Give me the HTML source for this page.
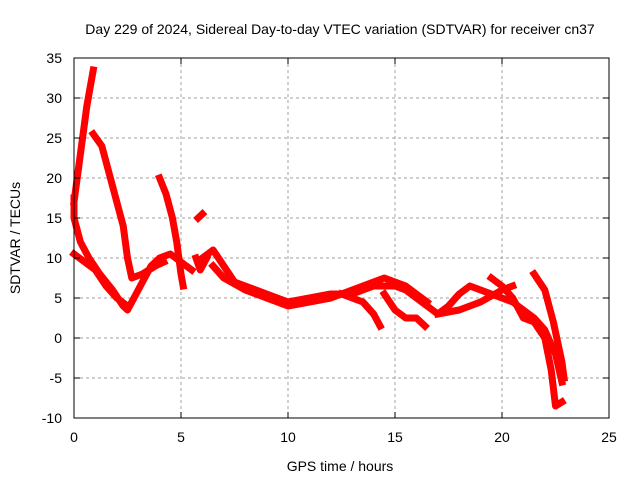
<!DOCTYPE html>
<html><head><meta charset="utf-8"><style>
body{margin:0;background:#fff;}
svg text{font-family:"Liberation Sans",sans-serif;font-size:14px;fill:#000;}
</style></head><body>
<svg width="640" height="480">
<rect width="640" height="480" fill="#fff"/>
<text x="340" y="34" text-anchor="middle">Day 229 of 2024, Sidereal Day-to-day VTEC variation (SDTVAR) for receiver cn37</text>
<g id="grid"></g>
<g id="series"></g>
<rect x="74" y="58" width="535" height="360" fill="none" stroke="#000" stroke-width="1"/>
<g id="ticks"></g>
<text x="340" y="471" text-anchor="middle">GPS time / hours</text>
<text transform="translate(20,238) rotate(-90)" text-anchor="middle">SDTVAR / TECUs</text>
</svg>
<script>
const xTicks=[0,5,10,15,20,25];
const yTicks=[35,30,25,20,15,10,5,0,-5,-10];
const trackA=[[0,17],[0.2,21],[0.4,25],[0.6,29],[0.8,32],[0.9,33.5]];
const trackB=[[0,17.5],[0,15],[0.3,12],[0.7,10],[1.2,8],[1.8,6],[2.3,4],[2.5,3.5],[2.8,5],[3.2,7],[3.6,9],[4,10],[4.5,10.5],[5,9.5],[5.5,8.5]];
const trackC=[[0,10.5],[0.5,9.5],[1,8.5],[1.5,6.5],[2,5],[2.5,4]];
const trackD=[[0.9,25.5],[1.3,24],[1.7,20],[2,17],[2.3,14],[2.5,10],[2.7,7.5],[3.2,8],[3.8,9],[4.2,9.5]];
const trackE=[[4,20],[4.3,18],[4.6,15],[4.8,12],[5,8],[5.1,6.5]];
const trackF=[[6,10],[6.5,11],[7,9],[7.5,7],[8,6.5],[9,5.5],[10,4.5],[11,5],[12,5.5],[13,5.5],[14,6.5],[15,6.5],[15.5,6],[16,5],[16.5,4],[17,3],[17.5,4],[18,5.5],[18.5,6.5],[19,6],[19.5,5.5],[20,5],[20.5,4.5],[21,3.5],[21.5,2.5],[22,1],[22.5,-2],[22.8,-5.5]];
const trackG=[[6.5,9],[7,7.5],[8,6],[9,5],[10,4],[11,4.5],[12,5],[13,6],[14,7],[14.5,7.5],[15,7],[15.5,6.5],[16,5.5],[16.5,4.5]];
const trackH=[[12.5,5.5],[13.5,4.5],[14,3],[14.3,1.5]];
const trackI=[[14.5,5.5],[15,3.5],[15.5,2.5],[16,2.5],[16.4,1.5]];
const trackJ=[[17,3],[18,3.5],[19,4.5],[20,6],[20.5,6.5]];
const trackK=[[19.5,7.5],[20,6.5],[20.5,5],[21,2.5],[21.5,2],[22,0],[22.3,-4],[22.5,-8.5],[22.8,-8]];
const trackL=[[21.5,8],[22,6],[22.4,2],[22.8,-3],[22.9,-5]];
const trackM=[[5.8,15],[6,15.5]];
const trackN=[[5.7,10],[5.9,8.5],[6.2,10]];
const tracks=[trackA,trackB,trackC,trackD,trackE,trackF,trackG,trackH,trackI,trackJ,trackK,trackL,trackM,trackN];
const X=v=>74+v*535/25, Y=v=>58+(35-v)*8;
const NS="http://www.w3.org/2000/svg";
const grid=document.getElementById('grid'),ticks=document.getElementById('ticks'),ser=document.getElementById('series');
function mk(tag,attrs,parent){const e=document.createElementNS(NS,tag);for(const k in attrs)e.setAttribute(k,attrs[k]);parent.appendChild(e);return e;}
xTicks.forEach(t=>{
 if(t>0&&t<25){const g=mk('line',{x1:X(t),x2:X(t),y1:58,y2:418,stroke:'#a0a0a0','stroke-dasharray':'3,3'},grid);
 
 }
 mk('line',{x1:X(t),x2:X(t),y1:418,y2:412,stroke:'#000'},ticks);mk('line',{x1:X(t),x2:X(t),y1:58,y2:64,stroke:'#000'},ticks);
 const l=mk('text',{x:X(t),y:442,'text-anchor':'middle'},ticks);l.textContent=t;
 
 
});
yTicks.forEach(t=>{
 if(t<35&&t>-10){const g=mk('line',{x1:74,x2:609,y1:Y(t),y2:Y(t),stroke:'#a0a0a0','stroke-dasharray':'3,3'},grid);
 
 }
 mk('line',{x1:74,x2:80,y1:Y(t),y2:Y(t),stroke:'#000'},ticks);mk('line',{x1:609,x2:603,y1:Y(t),y2:Y(t),stroke:'#000'},ticks);
 const l=mk('text',{x:62,y:Y(t)+5,'text-anchor':'end'},ticks);l.textContent=t;
 
 
});
tracks.forEach((tr,i)=>{
 const p=mk('polyline',{points:tr.map(d=>X(d[0])+','+Y(d[1])).join(' '),fill:'none',stroke:'#f00','stroke-width':7,'stroke-linejoin':'round','stroke-linecap':'square'},ser);
 
 
});
</script>
</body></html>
